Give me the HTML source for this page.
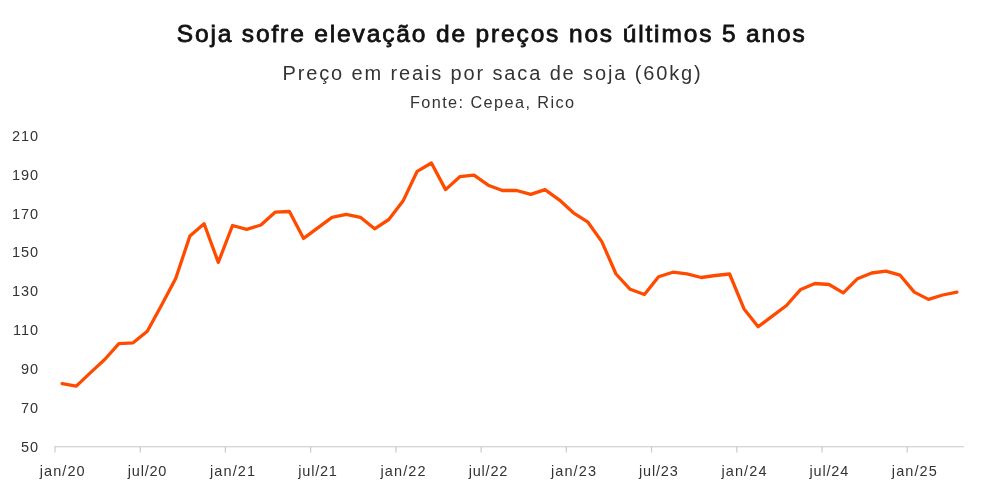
<!DOCTYPE html>
<html lang="pt-BR"><head><meta charset="utf-8"><title>Soja sofre elevação de preços nos últimos 5 anos</title>
<style>
html,body{margin:0;padding:0;background:#fff;}
body{width:983px;height:491px;position:relative;overflow:hidden;font-family:"Liberation Sans",sans-serif;}
.t{position:absolute;left:0;width:983px;text-align:center;white-space:nowrap;margin:0;}
#title{top:19px;left:0.2px;font-size:24.5px;line-height:30px;font-weight:normal;color:#111;-webkit-text-stroke:0.8px #111;letter-spacing:1.86px;}
#sub{top:61px;left:1px;font-size:20px;line-height:24px;color:#333;letter-spacing:1.87px;font-weight:normal;}
#src{top:93px;left:1.2px;font-size:16.3px;line-height:18px;color:#333;letter-spacing:1.4px;}
svg{position:absolute;left:0;top:0;}
svg text{font-family:"Liberation Sans",sans-serif;font-size:14.5px;fill:#333;}
.xl text{text-anchor:middle;letter-spacing:1.1px;}
.xl text.ju{letter-spacing:0.8px;}
.yl text{text-anchor:end;letter-spacing:0.9px;}
</style></head><body>
<h1 class="t" id="title">Soja sofre elevação de preços nos últimos 5 anos</h1>
<p class="t" id="sub">Preço em reais por saca de soja (60kg)</p>
<p class="t" id="src">Fonte: Cepea, Rico</p>
<svg width="983" height="491" viewBox="0 0 983 491">
<g stroke="#c6c6c6" stroke-width="1.1" fill="none"><line x1="54.5" y1="446.8" x2="964.0" y2="446.8"/><line x1="55.0" y1="446.8" x2="55.0" y2="452.6"/><line x1="140.2" y1="446.8" x2="140.2" y2="452.6"/><line x1="225.4" y1="446.8" x2="225.4" y2="452.6"/><line x1="310.7" y1="446.8" x2="310.7" y2="452.6"/><line x1="395.9" y1="446.8" x2="395.9" y2="452.6"/><line x1="481.1" y1="446.8" x2="481.1" y2="452.6"/><line x1="566.3" y1="446.8" x2="566.3" y2="452.6"/><line x1="651.5" y1="446.8" x2="651.5" y2="452.6"/><line x1="736.8" y1="446.8" x2="736.8" y2="452.6"/><line x1="822.0" y1="446.8" x2="822.0" y2="452.6"/><line x1="907.2" y1="446.8" x2="907.2" y2="452.6"/></g>
<g class="yl"><text x="38.9" y="452.1">50</text><text x="38.9" y="413.2">70</text><text x="38.9" y="374.2">90</text><text x="38.9" y="335.3">110</text><text x="38.9" y="296.3">130</text><text x="38.9" y="257.4">150</text><text x="38.9" y="218.5">170</text><text x="38.9" y="179.5">190</text><text x="38.9" y="140.6">210</text></g>
<g class="xl"><text x="62.7" y="476">jan/20</text><text x="147.5" y="476" class="ju">jul/20</text><text x="233.1" y="476">jan/21</text><text x="318.0" y="476" class="ju">jul/21</text><text x="403.6" y="476">jan/22</text><text x="488.4" y="476" class="ju">jul/22</text><text x="574.0" y="476">jan/23</text><text x="658.8" y="476" class="ju">jul/23</text><text x="744.5" y="476">jan/24</text><text x="829.3" y="476" class="ju">jul/24</text><text x="914.9" y="476">jan/25</text></g>
<polyline fill="none" stroke="#FF4B00" stroke-width="3.3" stroke-linejoin="round" stroke-linecap="round" points="62.1,383.7 76.3,386.1 90.5,372.6 104.7,359.5 118.9,343.6 133.1,342.8 147.3,331.3 161.5,305.3 175.7,278.5 189.9,236.0 204.1,223.7 218.3,262.4 232.5,225.5 246.7,229.4 260.9,225.0 275.1,212.2 289.4,211.5 303.6,238.4 317.8,227.9 332.0,217.4 346.2,214.4 360.4,217.3 374.6,228.8 388.8,219.5 403.0,201.1 417.2,171.3 431.4,163.0 445.6,189.6 459.8,176.7 474.0,175.2 488.2,185.2 502.4,190.5 516.6,190.5 530.8,194.4 545.0,189.6 559.2,199.8 573.4,212.8 587.6,221.8 601.8,241.6 616.0,274.0 630.2,289.3 644.4,294.5 658.6,276.7 672.8,272.2 687.0,273.9 701.2,277.5 715.4,275.5 729.6,274.0 743.9,308.7 758.1,326.8 772.3,316.1 786.5,305.5 800.7,289.4 814.9,283.5 829.1,284.5 843.3,292.8 857.5,278.7 871.7,273.0 885.9,271.1 900.1,275.2 914.3,292.1 928.5,299.4 942.7,295.0 956.9,292.1"/>
</svg>
</body></html>
